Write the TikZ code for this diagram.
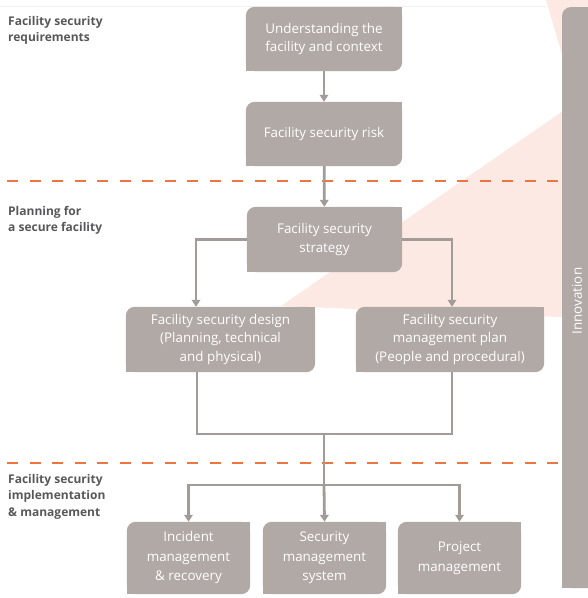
\documentclass[tikz,border=0pt]{standalone}
\usepackage{fontspec}
\setmainfont{Open Sans}
\usetikzlibrary{arrows.meta,backgrounds}
\definecolor{boxc}{RGB}{177,169,165}
\definecolor{linec}{RGB}{163,155,151}
\definecolor{dashc}{RGB}{236,118,64}
\definecolor{pinkc}{RGB}{253,233,227}
\definecolor{labc}{RGB}{88,88,90}
\tikzset{
  fbox/.style={rectangle, inner sep=0pt, text=white, align=center,
    font=\fontsize{13.4}{18.3}\selectfont},
  bbox/.style={fbox, minimum width=123pt, minimum height=72pt,
    font=\fontsize{13.4}{19.5}\selectfont},
  conn/.style={draw=linec, line width=2.8pt},
  arr/.style={conn, -{Triangle[width=8.5pt,length=7pt]}},
  sepline/.style={draw=dashc, line width=2pt, dash pattern=on 11pt off 11.5pt, dash phase=15.5pt},
  sidelab/.style={anchor=north west, inner sep=0pt, align=left, text=labc,
    font=\bfseries\fontsize{12}{16.5}\selectfont},
}
\begin{document}
\begin{tikzpicture}[x=1pt,y=-1pt]
\useasboundingbox (0,0) rectangle (588,598);

% boxes (text)
\node[fbox, minimum width=156pt, minimum height=64pt] (b1) at (324,39) {Understanding the\\facility and context};
\node[fbox, minimum width=156pt, minimum height=64pt] (b2) at (324,134) {Facility security risk};
\node[fbox, minimum width=155pt, minimum height=65pt] (b3) at (324.5,239.5) {Facility security\\strategy};
\node[fbox, minimum width=189pt, minimum height=65pt] (b4) at (220.5,339.5) {Facility security design\\(Planning, technical\\and physical)};
\node[fbox, minimum width=188pt, minimum height=65pt] (b5) at (450,339.5) {Facility security\\management plan\\(People and procedural)};
\node[bbox] (b6) at (188.5,558) {Incident\\management\\\& recovery};
\node[bbox] (b7) at (324.5,558) {Security\\management\\system};
\node[bbox] (b8) at (459.5,558) {Project\\management};

% side labels
\node[sidelab] (l1) at (8,16) {Facility security\\requirements};
\node[sidelab] (l2) at (8,206) {Planning for\\a secure facility};
\node[sidelab] (l3) at (8,474) {Facility security\\implementation\\\& management};

% innovation label
\node[rotate=90, inner sep=0pt, text=white, font=\fontsize{13.4}{15}\selectfont] (inn) at (577,301) {Innovation};

\begin{pgfonlayer}{background}
  \begin{scope}
    \clip (0,0) rectangle (588,598);
    \fill[pinkc] (546,0) -- (576,102) -- (281,306) -- (560,317) -- (600,317) -- (600,0) -- cycle;
    \draw[gray!12, line width=0.8pt] (0,6) -- (546,6);
    \draw[sepline] (0,181) -- (560,181);
    \draw[sepline] (0,463) -- (560,463);
    \foreach \n in {b1,b2,b3,b4,b5,b6,b7,b8}{
      \fill[boxc, rounded corners=9pt] (\n.south west) rectangle (\n.north east);
      \fill[boxc] (\n.north east) rectangle ++(-12pt,-12pt);
      \fill[boxc] (\n.south west) rectangle ++(12pt,12pt);
    }
    \fill[boxc, rounded corners=9pt] (562,7) rectangle (610,588);
    \fill[boxc] (562,588) rectangle (580,570);
  \end{scope}
\end{pgfonlayer}

% connectors
\draw[arr] (b1) -- (b2);
\draw[arr] (b2) -- (b3);
\draw[arr] (b3.west) -| ([xshift=-24.5pt]b4.north);
\draw[arr] (b3.east) -| ([xshift=2pt]b5.north);
\coordinate (j) at (324,434);
\coordinate (k) at (324,485);
\draw[conn] ([xshift=-23.5pt]b4.south) |- (j);
\draw[conn] (j) -| ([xshift=2pt]b5.south);
\draw[conn] (j) -- (k);
\draw[arr] (k) -| (b6.north);
\draw[arr] (k) -- (b7.north);
\draw[arr] (k) -| (b8.north);
\end{tikzpicture}
\end{document}
